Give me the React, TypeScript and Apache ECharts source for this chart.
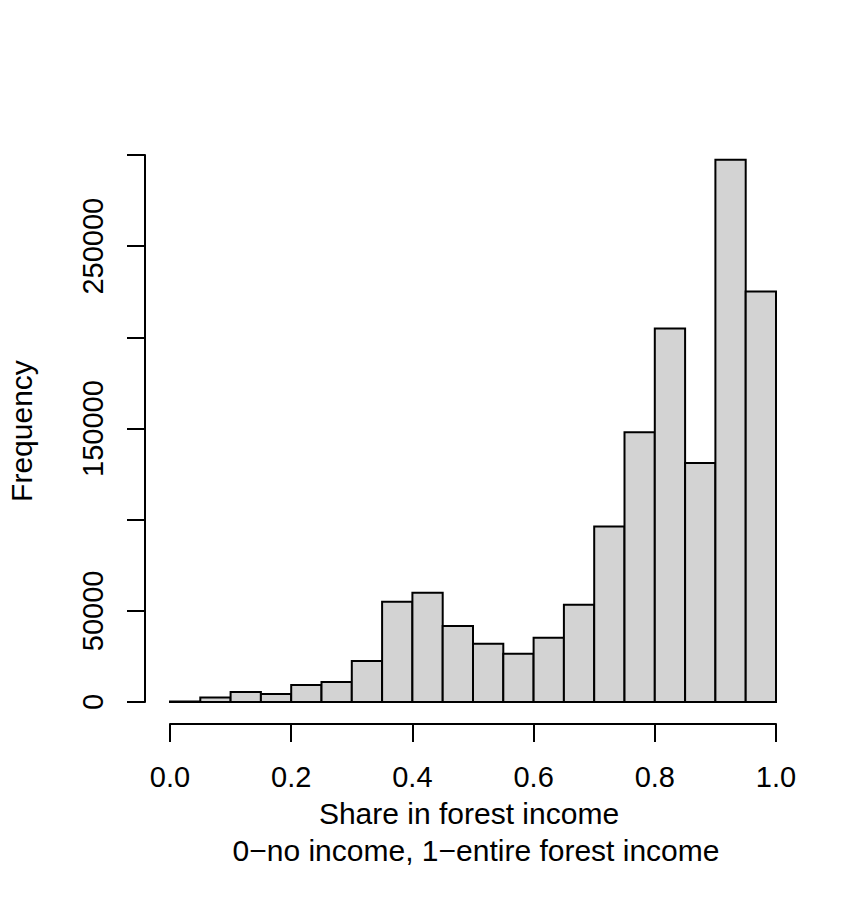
import React, { useEffect, useRef } from "react";
import * as echarts from "echarts";

const breaks = [0, 0.05, 0.1, 0.15, 0.2, 0.25, 0.3, 0.35, 0.4, 0.45, 0.5, 0.55, 0.6, 0.65, 0.7, 0.75, 0.8, 0.85, 0.9, 0.95, 1.0];
const counts = [300, 2400, 5500, 4400, 9300, 11000, 22500, 55000, 59900, 41700, 31900, 26400, 35200, 53300, 96200, 147900, 204900, 131100, 297400, 225200];
const yLabelValues = [0, 50000, 150000, 250000];
const xTitle = "Share in forest income";
const xSubtitle = "0\u2212no income, 1\u2212entire forest income";
const yTitle = "Frequency";

const FONT = "Liberation Sans, Arial, sans-serif";

export default function App() {
  const ref = useRef<HTMLDivElement>(null);
  useEffect(() => {
    if (!ref.current) return;
    const chart = echarts.init(ref.current, undefined, { renderer: "svg" });
    const data = counts.map((c, i) => [breaks[i], breaks[i + 1], c]);
    chart.setOption({
      animation: false,
      backgroundColor: "#ffffff",
      grid: { left: 170, right: 89, top: 155, bottom: 198, containLabel: false },
      xAxis: {
        type: "value",
        min: 0,
        max: 1,
        interval: 0.2,
        offset: 22,
        splitLine: { show: false },
        axisLine: { show: true, onZero: false, lineStyle: { color: "#000", width: 2 } },
        axisTick: { show: true, length: 18, inside: false, lineStyle: { color: "#000", width: 2 } },
        axisLabel: {
          margin: 38,
          color: "#000",
          fontFamily: FONT,
          fontSize: 29,
          formatter: (v: number) => v.toFixed(1),
        },
      },
      yAxis: {
        type: "value",
        min: 0,
        max: 300000,
        interval: 50000,
        offset: 25,
        splitLine: { show: false },
        axisLine: { show: true, onZero: false, lineStyle: { color: "#000", width: 2 } },
        axisTick: { show: true, length: 18, inside: false, lineStyle: { color: "#000", width: 2 } },
        axisLabel: {
          margin: 38,
          rotate: 90,
          color: "#000",
          fontFamily: FONT,
          fontSize: 29,
          formatter: (v: number) => (yLabelValues.indexOf(v) >= 0 ? String(v) : ""),
        },
      },
      series: [
        {
          type: "custom",
          data,
          encode: { x: [0, 1], y: 2 },
          renderItem: (params: any, api: any) => {
            const x0 = api.value(0);
            const x1 = api.value(1);
            const c = api.value(2);
            const p0 = api.coord([x0, 0]);
            const p1 = api.coord([x1, c]);
            return {
              type: "rect",
              shape: { x: p0[0], y: p1[1], width: p1[0] - p0[0], height: p0[1] - p1[1] },
              style: { fill: "#d3d3d3", stroke: "#000", lineWidth: 2 },
            };
          },
        },
      ],
      graphic: [
        {
          type: "text",
          x: 469,
          y: 813,
          style: { text: xTitle, fontFamily: FONT, fontSize: 30, fill: "#000", align: "center", verticalAlign: "middle" },
        },
        {
          type: "text",
          x: 476,
          y: 850,
          style: { text: xSubtitle, fontFamily: FONT, fontSize: 30, fill: "#000", align: "center", verticalAlign: "middle" },
        },
        {
          type: "text",
          x: 21,
          y: 431,
          rotation: Math.PI / 2,
          style: { text: yTitle, fontFamily: FONT, fontSize: 30, fill: "#000", align: "center", verticalAlign: "middle" },
        },
      ],
    });
    return () => chart.dispose();
  }, []);
  return <div ref={ref} style={{ position: "fixed", left: 0, top: 0, width: 865, height: 900 }} />;
}
